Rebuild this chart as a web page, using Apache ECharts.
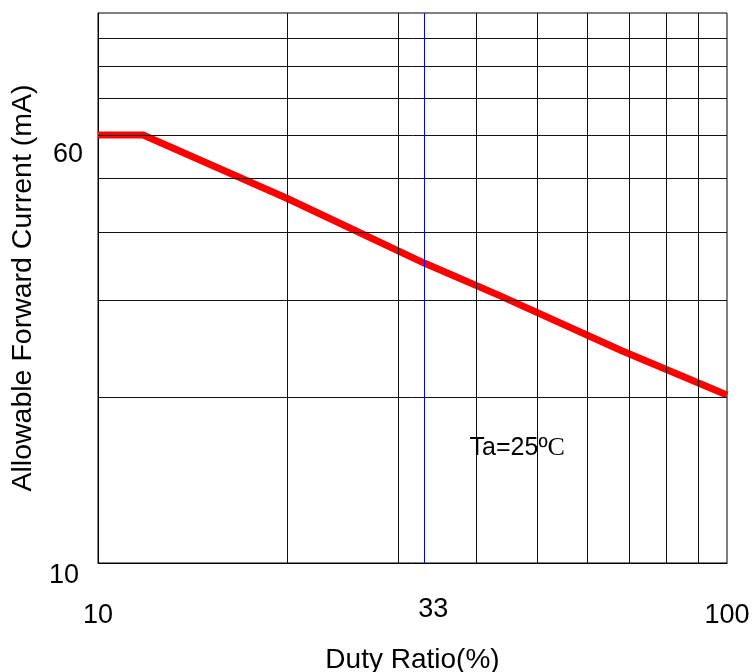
<!DOCTYPE html>
<html><head><meta charset="utf-8">
<script src="https://cdn.jsdelivr.net/npm/echarts@6/dist/echarts.min.js"></script>
<style>html,body{margin:0;padding:0;background:#fff}#c{width:755px;height:672px}</style>
</head><body><div id="c"></div>
<script>
// Data (log-log chart)
const dutyRatio      = [10, 11.8, 20, 33,   43.6, 67.6, 100];
const forwardCurrent = [60, 60,   46, 35.1, 30.6, 24.4, 20.2];
const xGridValues = [20, 30, 40, 50, 60, 70, 80, 90];
const yGridValues = [20, 30, 40, 50, 60, 70, 80, 90];
const xTickLabels = [10, 33, 100];
const yTickLabels = [10, 60];
const markerDuty = [33];
const annotationPoint = [38.9, 16.2];
const annotationText = 'Ta=25º';
const annotationUnit = 'C';
const xTitle = 'Duty Ratio(%)';
const yTitle = 'Allowable Forward Current (mA)';

const FONT = 'Liberation Sans, Arial, sans-serif';
const chart = echarts.init(document.getElementById('c'), null, {renderer: 'canvas'});

const option = {
  animation: false,
  backgroundColor: '#fff',
  grid: {left: 98, right: 28, top: 13, bottom: 109, show: true, borderColor: '#000', borderWidth: 1,
         backgroundColor: 'transparent', containLabel: false, outerBoundsMode: 'none'},
  xAxis: {
    type: 'log', logBase: 10, min: 10, max: 100,
    name: xTitle, nameLocation: 'middle', nameGap: 83,
    nameTextStyle: {fontFamily: FONT, fontSize: 28, color: '#000'},
    axisLine: {show: true, lineStyle: {color: '#000', width: 1}},
    axisTick: {show: false},
    splitLine: {show: false},
    minorTick: {show: false}, minorSplitLine: {show: false},
    axisLabel: {
      customValues: xTickLabels,
      margin: 33,
      fontFamily: FONT, fontSize: 27, color: '#000',
      formatter: function (v) { return Math.round(v) === 33 ? '{b|33}' : '{a|' + Math.round(v) + '}'; },
      rich: {
        a: {fontFamily: FONT, fontSize: 27, color: '#000', padding: [6, 0, 0, 0]},
        b: {fontFamily: FONT, fontSize: 27, color: '#000', padding: [0, 0, 0, 18]}
      }
    }
  },
  yAxis: {
    type: 'log', logBase: 10, min: 10, max: 100,
    name: yTitle, nameLocation: 'middle', nameGap: 60, nameRotate: 90,
    nameTextStyle: {fontFamily: FONT, fontSize: 28.5, color: '#000'},
    axisLine: {show: true, lineStyle: {color: '#000', width: 1}},
    axisTick: {show: false},
    splitLine: {show: false},
    axisLabel: {
      customValues: yTickLabels,
      margin: 15,
      fontFamily: FONT, fontSize: 27, color: '#000',
      formatter: function (v) { return Math.round(v) === 60 ? '{c|60}' : '{d|' + Math.round(v) + '}'; },
      rich: {
        c: {fontFamily: FONT, fontSize: 27, color: '#000', padding: [40, 0, 0, 0]},
        d: {fontFamily: FONT, fontSize: 27, color: '#000', padding: [26, 4, 0, 0]}
      }
    }
  },
  series: [
    {
      name: 'grid', type: 'line', data: [], z: 1, silent: true,
      markLine: {
        silent: true, symbol: 'none', animation: false,
        label: {show: false},
        lineStyle: {color: '#111', width: 1, type: 'solid'},
        emphasis: {disabled: true},
        data: xGridValues.map(v => ({xAxis: v})).concat(yGridValues.map(v => ({yAxis: v})))
      }
    },
    {
      name: 'IF', type: 'line', z: 3,
      data: dutyRatio.map((x, i) => [x, forwardCurrent[i]]),
      showSymbol: false, symbol: 'none',
      lineStyle: {color: '#ff0000', width: 7, cap: 'butt', join: 'miter'},
      silent: true
    },
    {
      name: 'marker', type: 'line', data: [], z: 4, silent: true,
      markLine: {
        silent: true, symbol: 'none', animation: false,
        label: {show: false},
        lineStyle: {color: '#0000ff', width: 1, type: 'solid'},
        emphasis: {disabled: true},
        data: markerDuty.map(v => ({xAxis: v}))
      }
    },
    {
      name: 'note', type: 'scatter', z: 5, silent: true,
      symbol: 'circle', symbolSize: 1, itemStyle: {color: '#fff', opacity: 1},
      data: [annotationPoint],
      label: {
        show: true, position: 'right', distance: 0,
        fontFamily: FONT, fontSize: 25, color: '#000', opacity: 1,
        textBorderWidth: 0,
        formatter: '{t|' + annotationText + '}{u|' + annotationUnit + '}',
        rich: {
          t: {fontFamily: FONT, fontSize: 25, color: '#000'},
          u: {fontFamily: '"Liberation Serif", "Times New Roman", serif', fontSize: 26, color: '#000'}
        }
      }
    }
  ]
};
chart.setOption(option);
</script>
</body></html>
